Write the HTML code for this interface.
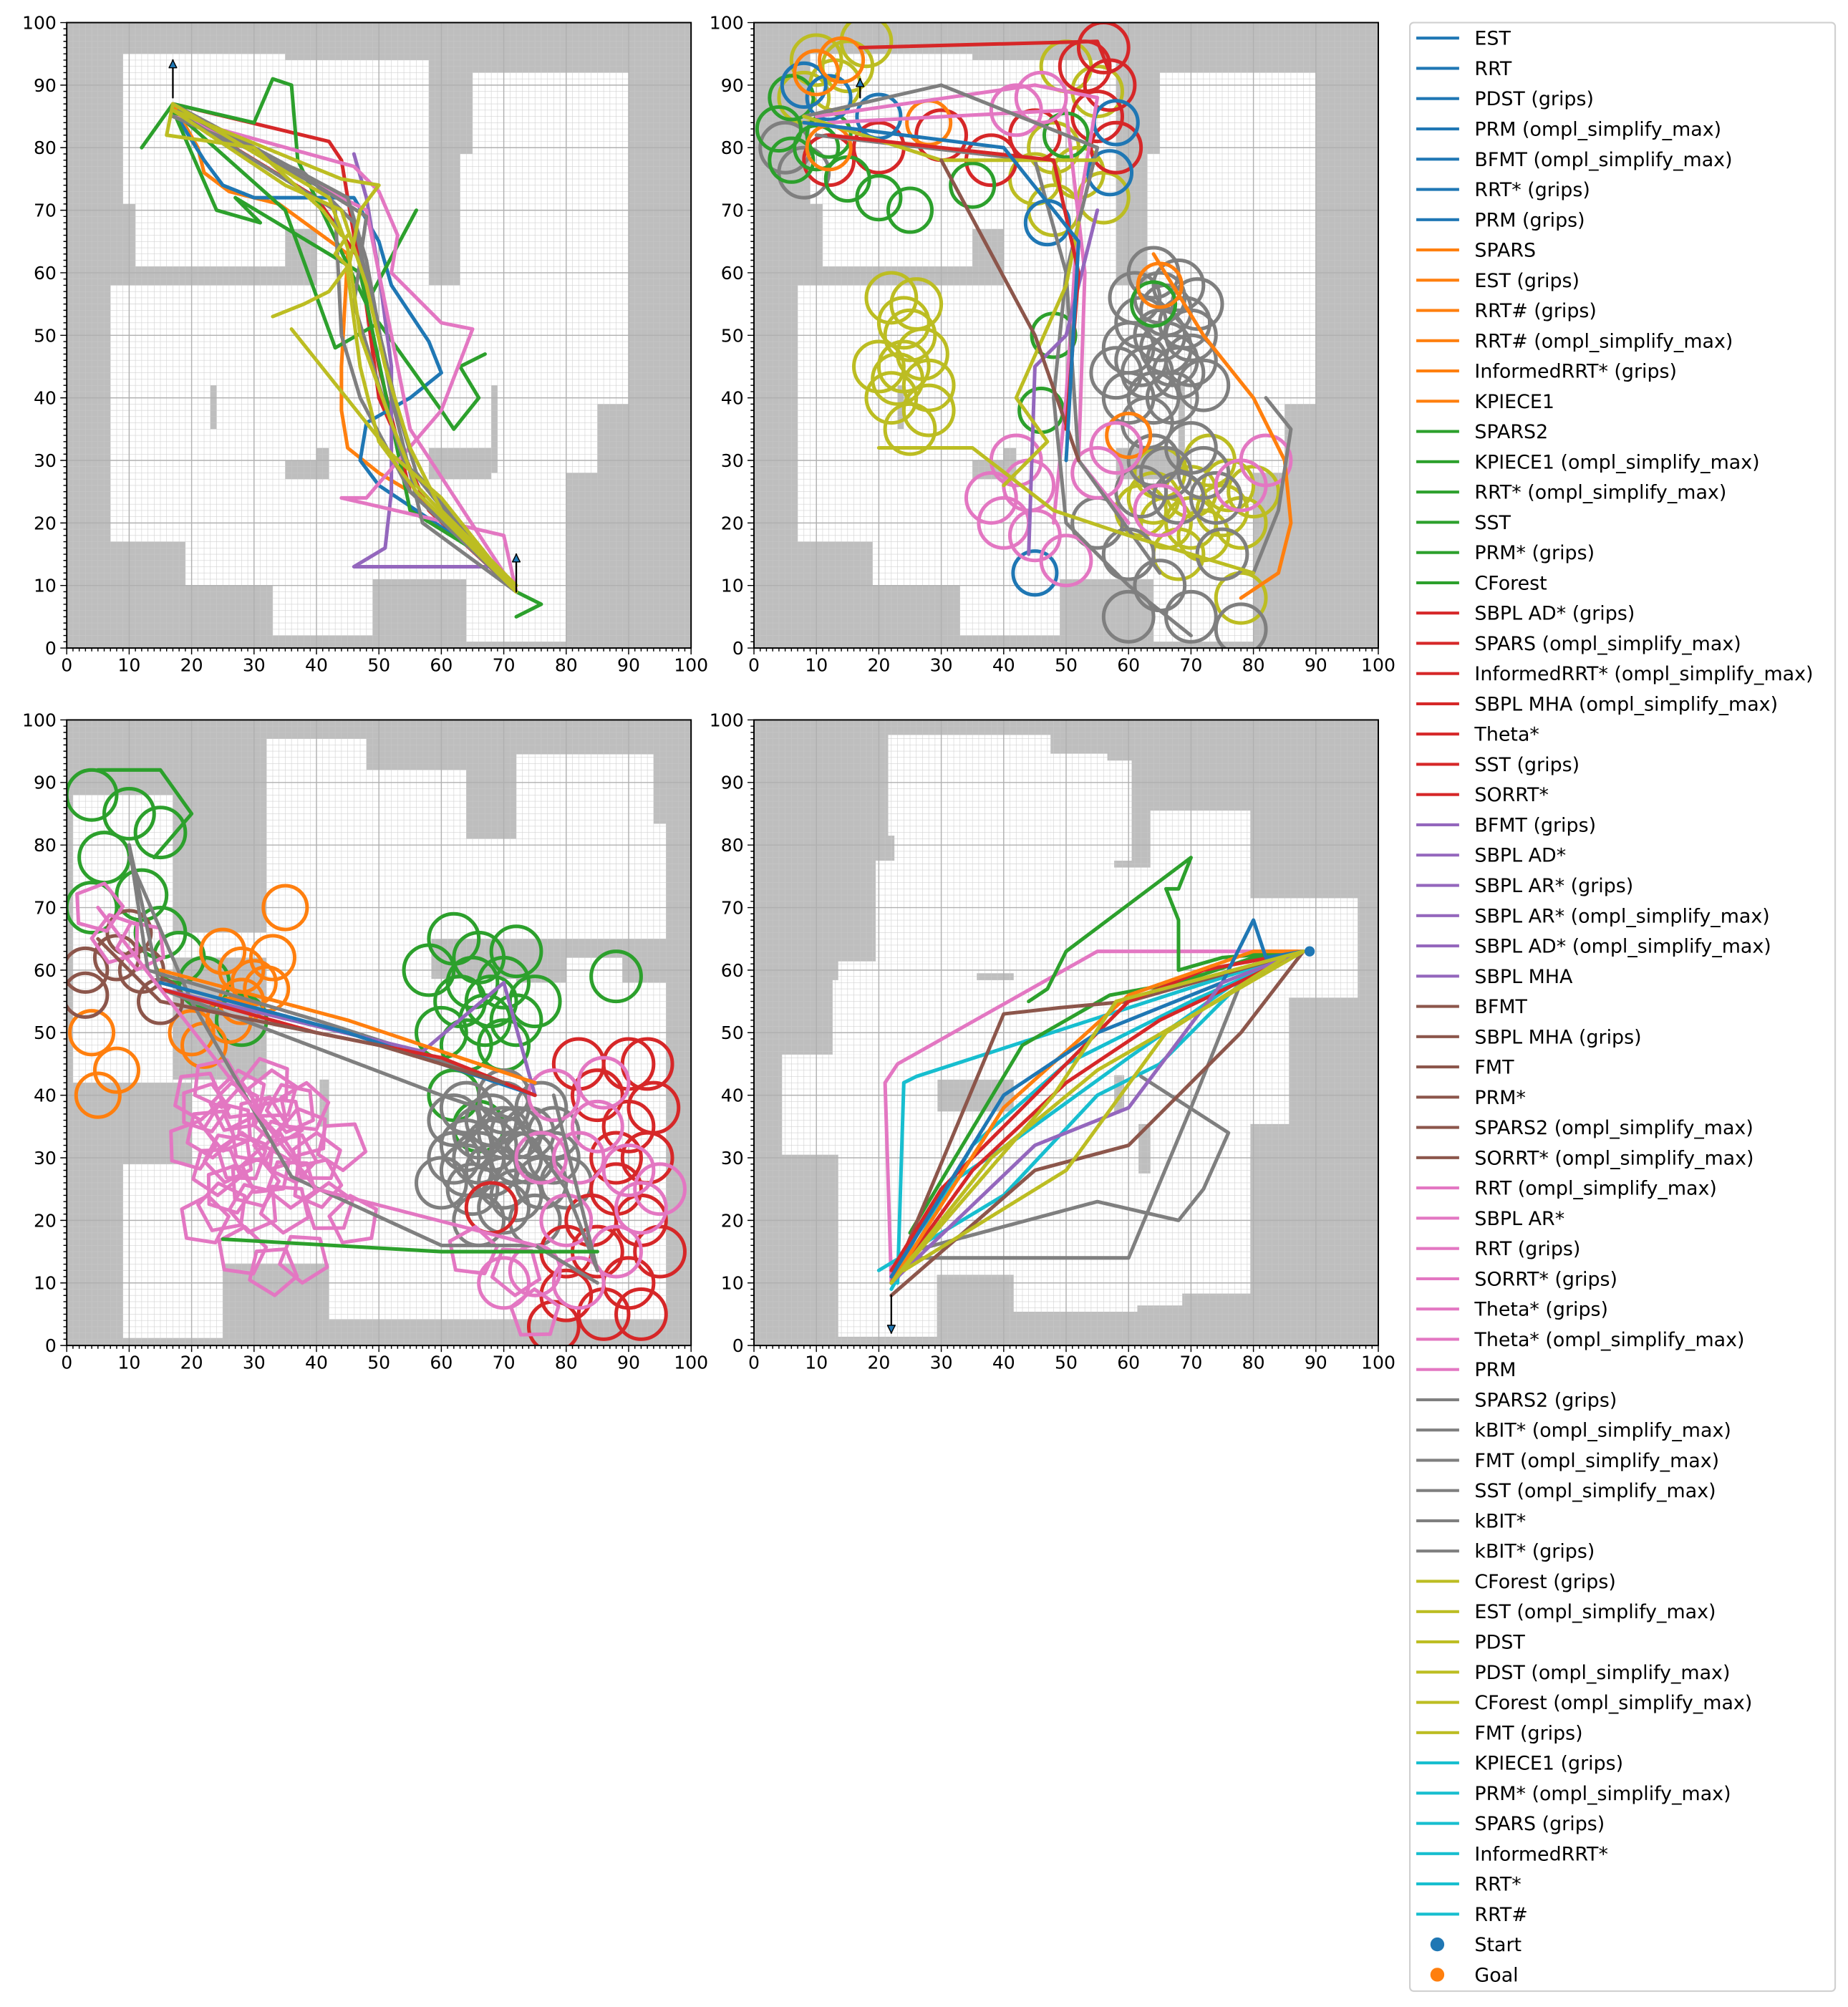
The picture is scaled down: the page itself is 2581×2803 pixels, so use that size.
<!DOCTYPE html>
<html><head><meta charset="utf-8"><title>Planner trajectories</title>
<style>html,body{margin:0;padding:0;background:#fff;}svg{display:block;}</style></head>
<body>
<svg id="fig" xmlns="http://www.w3.org/2000/svg" width="2581" height="2803" viewBox="0 0 1440 1564" preserveAspectRatio="none" font-family="DejaVu Sans, Liberation Sans, sans-serif"></svg>
<script>
// ---------- data ----------
const C = {blue:'#1f77b4',orange:'#ff7f0e',green:'#2ca02c',red:'#d62728',purple:'#9467bd',brown:'#8c564b',pink:'#e377c2',gray:'#7f7f7f',olive:'#bcbd22',cyan:'#17becf'};
const xTicks = [0,10,20,30,40,50,60,70,80,90,100];
const yTicks = [0,10,20,30,40,50,60,70,80,90,100];

const free1 = [[9,71,25,95],[11,61,35,95],[25,67,58,94],[40,58,58,67],[65,79,90,92],[63,39,90,79],[63,28,85,39],[7,17,63,58],[19,10,33,17],[33,2,49,17],[49,11,64,27],[64,1,80,28]];
const obst1 = [[35,27,42,30],[40,30,42,32],[23,35,24,42],[58,27,68,32],[68,28,69,42]];
const free3 = [[1,42.5,17,88],[17,62,32,66],[32,42.5,48,97],[48,42.5,64,92],[64,42.5,72,81],[72,65,94,94.5],[94,65,96,83.4],[80,58,89,62],[72,4.2,96,58],[42,4.2,72,42.5],[20,13.1,42,42.5],[9,1.2,25,29],[1,42,20,42.5]];
const obst3 = [[58.4,58.6,72,65],[40.5,35,42,42.5]];
const free4 = [[21.5,81.5,47.5,97.6],[22.5,75.5,47.5,81.5],[47.5,77.5,56.6,94.6],[56.6,77.5,60.5,93.5],[19.5,61.4,79.5,77.5],[63.5,71.5,79.5,85.5],[79.5,55.6,96.7,71.5],[13.5,58.4,79.5,61.4],[12.6,46.5,79.5,58.4],[4.5,30.5,79.5,46.5],[79.5,35.4,85.7,55.6],[13.5,1.4,29.3,30.5],[29.3,11.3,41.6,30.5],[41.6,5.4,61.4,30.5],[61.4,6.4,68.6,30.5],[68.6,8.3,79.5,35.4]];
const obst4 = [[29.4,37.4,41.6,42.5],[35.7,58.4,41.6,59.5],[57.7,37.4,59.3,43.2],[61.6,27.5,63.5,35.4],[57.7,76.4,63.5,77.5]];

const paths1 = [
 ['red',[[17,87],[42,81],[44,78],[46,66],[50,45],[55,25],[70,12],[72,9]]],
 ['red',[[17,86],[40,72],[47,62],[50,40],[58,22],[72,9]]],
 ['orange',[[17,87],[21,80],[22,76],[26,73],[34,71],[45,63],[44,45],[44,38],[45,32],[50,28],[55,25],[67,14],[72,9]]],
 ['blue',[[17,86],[22,78],[25,74],[30,72],[46,72],[50,65],[52,58],[58,49],[60,44],[55,40],[48,36],[47,30],[50,26],[68,14],[72,9]]],
 ['green',[[12,80],[17,87],[30,84],[33,91],[36,90],[37,78],[48,55],[56,70]]],
 ['green',[[17,86],[35,70],[43,48],[50,52],[55,45],[60,38],[62,35],[66,40],[63,45],[67,47]]],
 ['green',[[17,86],[24,70],[31,68],[27,72],[47,60],[55,22],[68,14],[72,9],[76,7],[72,5]]],
 ['purple',[[46,79],[48,72],[50,60],[52,45],[52,25],[51,16],[46,13],[68,13],[72,9]]],
 ['pink',[[17,85],[46,77],[50,73],[53,66],[52,60],[60,52],[65,51],[60,38],[48,24],[44,24],[70,18],[72,9]]],
 ['pink',[[17,86],[48,70],[52,50],[55,35],[72,9]]],
 ['gray',[[17,87],[45,72],[48,62],[52,40],[57,20],[72,9]]],
 ['gray',[[17,86],[43,70],[44,50],[47,40],[55,25],[72,9]]],
 ['gray',[[18,86],[40,74],[48,69],[46,55],[50,42],[54,30],[62,20],[72,9]]],
 ['gray',[[17,85],[38,76],[46,68],[49,55],[53,38],[56,28],[66,16],[72,9]]],
 ['olive',[[17,87],[42,72],[45,64],[47,50],[52,36],[56,26],[72,9]]],
 ['olive',[[33,53],[38,55],[42,57],[45,61],[43,63],[45,66]]],
 ['olive',[[36,51],[52,31],[60,24],[72,9]]],
 ['olive',[[17,86],[44,75],[50,74],[47,70],[45,60],[47,45],[50,33],[56,25],[65,16],[72,9]]],
 ['olive',[[17,87],[16,82],[30,80],[41,70],[44,66]]],
 ['olive',[[17,86],[35,74],[44,70],[48,58],[51,45],[55,32],[60,22],[72,10]]]
];
const circles2 = [
 ['olive',4,[[10,94],[15,93],[18,97],[13,90],[8,88],[50,93],[55,89],[48,80],[52,76],[45,75],[48,70],[56,72],[26,55],[25,50],[24,45],[28,42],[22,40],[28,38],[25,35],[20,45],[22,56],[24,52],[27,47],[23,43],[65,28],[70,25],[75,22],[72,18],[66,20],[78,20],[68,15],[73,30],[62,22],[80,25],[78,8],[70,20],[76,26],[64,24]]],
 ['gray',4,[[60,40],[63,44],[66,48],[69,52],[62,52],[65,56],[70,46],[67,40],[63,36],[72,42],[60,48],[68,58],[64,60],[71,55],[58,44],[62,46],[65,50],[68,44],[66,54],[64,40],[70,50],[61,56],[67,46],[66,28],[70,32],[74,24],[62,25],[60,15],[55,20],[75,15],[65,10],[70,5],[60,5],[78,3],[5,80],[8,76],[68,24],[72,28],[64,30]]],
 ['red',4,[[53,93],[57,90],[55,85],[58,80],[56,96],[45,82],[38,78],[20,80],[30,82],[12,78]]],
 ['green',3.5,[[6,88],[10,80],[15,75],[20,72],[25,70],[12,82],[6,78],[35,74],[50,82],[48,50],[46,38],[4,83],[64,55]]],
 ['blue',3.5,[[8,90],[20,85],[57,76],[58,84],[47,68],[45,12],[12,88]]],
 ['orange',3.5,[[10,92],[12,80],[28,84],[65,58],[60,34],[14,94]]],
 ['pink',4,[[42,30],[40,20],[45,18],[55,28],[50,14],[65,22],[58,32],[82,30],[78,26],[42,86],[46,88],[38,24],[44,26]]]
];
const paths2 = [
 ['red',[[17,96],[55,97],[57,92]]],
 ['pink',[[10,85],[45,90],[55,88],[52,70],[50,40],[48,20]]],
 ['pink',[[12,84],[50,86],[53,60],[52,30],[60,20]]],
 ['gray',[[8,85],[30,90],[55,80],[50,60],[48,40],[50,20],[60,10],[70,2]]],
 ['gray',[[10,82],[45,78],[50,60],[52,30],[65,12]]],
 ['purple',[[44,15],[45,45],[50,50],[55,70]]],
 ['orange',[[64,63],[72,50],[80,40],[85,30],[86,20],[84,12],[78,8]]],
 ['gray',[[82,40],[86,35],[84,22],[80,12]]],
 ['olive',[[8,85],[30,78],[55,78]]],
 ['olive',[[20,32],[35,32],[48,22],[60,18],[80,12]]],
 ['olive',[[40,26],[47,33],[42,40],[50,58],[52,68]]],
 ['brown',[[30,78],[45,50],[52,30]]],
 ['red',[[12,82],[48,78],[52,60],[50,35]]],
 ['blue',[[8,84],[40,80],[52,65],[50,30]]]
];
const circles3 = [
 ['green',4,[[4,88],[10,85],[15,82],[6,78],[12,72],[4,70],[15,66],[18,62],[58,60],[62,65],[66,62],[70,58],[63,55],[67,52],[72,63],[60,50],[70,48],[75,55],[88,59],[62,40],[66,35],[22,58],[28,52],[65,58],[68,55],[72,52],[64,48]]],
 ['orange',3.5,[[25,63],[28,60],[33,62],[32,57],[5,40],[22,48],[35,70],[28,55],[20,50],[4,50],[8,44],[30,58],[26,52]]],
 ['brown',3.5,[[3,60],[8,62],[12,60],[15,55],[3,56],[10,66]]],
 ['gray',4,[[62,30],[66,34],[70,38],[74,34],[78,30],[65,25],[70,22],[75,20],[68,28],[72,30],[76,38],[64,38],[60,26],[80,26],[70,40],[66,20],[64,32],[68,36],[72,34],[76,26],[70,26],[66,30],[74,30],[68,32],[62,36],[72,24],[78,34],[64,28],[70,34]]],
 ['red',4,[[85,40],[90,35],[93,30],[88,25],[92,20],[85,15],[90,10],[95,15],[86,5],[80,8],[78,3],[68,22],[93,45],[82,45],[90,45],[94,38],[88,30],[84,20],[92,5],[80,15]]],
 ['pink',4,[[85,35],[90,28],[80,20],[88,15],[82,10],[75,12],[70,10],[92,22],[78,40],[82,30],[95,25],[86,42],[76,30]]]
];
const polys3 = [
 ['pink',4,5,[[22,38],[26,35],[30,33],[34,36],[28,30],[24,28],[32,28],[36,30],[38,34],[26,25],[30,22],[22,20],[35,22],[40,30],[44,32],[28,40],[24,42],[32,42],[20,32],[36,38],[28,15],[38,14],[42,22],[33,12],[46,20],[40,26],[8,65],[5,70],[12,64],[65,15],[72,12],[75,5],[23,34],[27,38],[31,36],[34,32],[30,26],[26,30],[38,38],[36,26],[33,40],[21,40],[25,22]]]
];
const paths3 = [
 ['gray',[[10,80],[15,57],[60,40],[72,36],[80,25],[85,12],[78,40]]],
 ['gray',[[10,78],[20,55],[36,27],[60,16],[75,16],[85,10]]],
 ['gray',[[10,80],[13,60],[40,52],[65,44]]],
 ['purple',[[15,57],[57,47],[70,58],[75,40]]],
 ['blue',[[15,58],[45,50],[75,40]]],
 ['red',[[15,57],[40,50],[60,46],[75,40]]],
 ['orange',[[15,60],[45,52],[75,42]]],
 ['brown',[[5,65],[15,55],[50,48],[70,42]]],
 ['green',[[25,17],[60,15],[85,15]]],
 ['pink',[[5,70],[15,57],[40,25],[75,16]]],
 ['green',[[5,92],[15,92],[20,85],[14,78]]]
];
const paths4 = [
 ['pink',[[22,10],[21,42],[23,45],[55,63],[87,63]]],
 ['cyan',[[23,10],[24,42],[26,43],[88,63]]],
 ['cyan',[[20,12],[30,18],[40,24],[55,40],[65,45],[78,58],[88,63]]],
 ['cyan',[[22,9],[35,32],[50,45],[70,55],[88,63]]],
 ['cyan',[[22,10],[30,25],[42,33],[60,46],[80,60],[88,63]]],
 ['green',[[44,55],[47,57],[50,63],[70,78],[68,73],[66,73],[68,68],[68,60],[75,62],[87,63]]],
 ['green',[[25,18],[43,48],[57,56],[68,58],[80,62],[88,63]]],
 ['gray',[[22,11],[25,14],[60,14],[70,38],[78,58]]],
 ['gray',[[25,15],[55,23],[68,20],[72,25],[76,34],[62,43]]],
 ['brown',[[22,10],[40,53],[49,54],[60,55],[88,63]]],
 ['brown',[[22,8],[45,28],[60,32],[78,50],[88,63]]],
 ['red',[[22,12],[30,25],[45,40],[60,55],[72,60],[88,63]]],
 ['red',[[22,10],[35,28],[50,42],[65,52],[88,63]]],
 ['orange',[[22,10],[40,38],[50,47],[60,56],[80,63],[88,63]]],
 ['blue',[[22,11],[40,40],[55,50],[75,58],[80,68],[82,62],[88,63]]],
 ['purple',[[22,10],[45,32],[60,38],[75,58],[88,63]]],
 ['olive',[[22,10],[48,40],[58,55],[88,63]]],
 ['olive',[[24,12],[50,28],[66,50],[85,62]]],
 ['olive',[[22,10],[38,30],[55,44],[88,63]]]
];
const legendLabels = [
 ['EST','blue'],['RRT','blue'],['PDST (grips)','blue'],['PRM (ompl_simplify_max)','blue'],['BFMT (ompl_simplify_max)','blue'],['RRT* (grips)','blue'],['PRM (grips)','blue'],
 ['SPARS','orange'],['EST (grips)','orange'],['RRT# (grips)','orange'],['RRT# (ompl_simplify_max)','orange'],['InformedRRT* (grips)','orange'],['KPIECE1','orange'],
 ['SPARS2','green'],['KPIECE1 (ompl_simplify_max)','green'],['RRT* (ompl_simplify_max)','green'],['SST','green'],['PRM* (grips)','green'],['CForest','green'],
 ['SBPL AD* (grips)','red'],['SPARS (ompl_simplify_max)','red'],['InformedRRT* (ompl_simplify_max)','red'],['SBPL MHA (ompl_simplify_max)','red'],['Theta*','red'],['SST (grips)','red'],['SORRT*','red'],
 ['BFMT (grips)','purple'],['SBPL AD*','purple'],['SBPL AR* (grips)','purple'],['SBPL AR* (ompl_simplify_max)','purple'],['SBPL AD* (ompl_simplify_max)','purple'],['SBPL MHA','purple'],
 ['BFMT','brown'],['SBPL MHA (grips)','brown'],['FMT','brown'],['PRM*','brown'],['SPARS2 (ompl_simplify_max)','brown'],['SORRT* (ompl_simplify_max)','brown'],
 ['RRT (ompl_simplify_max)','pink'],['SBPL AR*','pink'],['RRT (grips)','pink'],['SORRT* (grips)','pink'],['Theta* (grips)','pink'],['Theta* (ompl_simplify_max)','pink'],['PRM','pink'],
 ['SPARS2 (grips)','gray'],['kBIT* (ompl_simplify_max)','gray'],['FMT (ompl_simplify_max)','gray'],['SST (ompl_simplify_max)','gray'],['kBIT*','gray'],['kBIT* (grips)','gray'],
 ['CForest (grips)','olive'],['EST (ompl_simplify_max)','olive'],['PDST','olive'],['PDST (ompl_simplify_max)','olive'],['CForest (ompl_simplify_max)','olive'],['FMT (grips)','olive'],
 ['KPIECE1 (grips)','cyan'],['PRM* (ompl_simplify_max)','cyan'],['SPARS (grips)','cyan'],['InformedRRT*','cyan'],['RRT*','cyan'],['RRT#','cyan']
];

// ---------- drawing ----------
const NS='http://www.w3.org/2000/svg';
const svg=document.getElementById('fig');
function mk(tag,attrs,parent){const e=document.createElementNS(NS,tag);for(const k in attrs)e.setAttribute(k,attrs[k]);(parent||svg).appendChild(e);return e;}

const AXES=[{x0:52,x1:538.5,y0:17.6,y1:505},{x0:587.5,x1:1074,y0:17.6,y1:505},{x0:52,x1:538.5,y0:561,y1:1048.5},{x0:587.5,x1:1074,y0:561,y1:1048.5}];

function drawAxes(i,free,obst,paths,circles,polys,extra){
 const a=AXES[i];
 const sx=v=>a.x0+(a.x1-a.x0)*v/100, sy=v=>a.y1-(a.y1-a.y0)*v/100;
 const g=mk('g',{});
 
 
 const clipId='clip'+i;
 const cp=mk('clipPath',{id:clipId},g);mk('rect',{x:a.x0,y:a.y0,width:a.x1-a.x0,height:a.y1-a.y0},cp);
 const map=mk('g',{'clip-path':'url(#'+clipId+')'},g);
 
 
 mk('rect',{x:a.x0,y:a.y0,width:a.x1-a.x0,height:a.y1-a.y0,fill:'#bebebe'},map);
 free.forEach(r=>{mk('rect',{x:sx(r[0]),y:sy(r[3]),width:sx(r[2])-sx(r[0]),height:sy(r[1])-sy(r[3]),fill:'#fff'},map);});
 obst.forEach(r=>{mk('rect',{x:sx(r[0]),y:sy(r[3]),width:sx(r[2])-sx(r[0]),height:sy(r[1])-sy(r[3]),fill:'#bebebe'},map);});
 let d='';
 for(let v=1;v<100;v++){if(v%10===0)continue;d+='M'+sx(v)+' '+a.y0+'V'+a.y1+'M'+a.x0+' '+sy(v)+'H'+a.x1;}
 mk('path',{d:d,stroke:'#c8c8c8','stroke-width':0.35,fill:'none','stroke-opacity':0.8},map);
 let D='';
 for(let v=10;v<100;v+=10){D+='M'+sx(v)+' '+a.y0+'V'+a.y1+'M'+a.x0+' '+sy(v)+'H'+a.x1;}
 mk('path',{d:D,stroke:'#b0b0b0','stroke-width':0.8,fill:'none'},map);
 const tr=mk('g',{'clip-path':'url(#'+clipId+')',fill:'none','stroke-width':2.8,'stroke-linejoin':'round','stroke-linecap':'round'},g);
 
 
 (circles||[]).forEach(c=>{c[2].forEach(p=>{const e=mk('ellipse',{cx:sx(p[0]),cy:sy(p[1]),rx:(a.x1-a.x0)*c[1]/100,ry:(a.y1-a.y0)*c[1]/100,stroke:C[c[0]]},tr);
   
   });});
 (polys||[]).forEach(c=>{c[3].forEach((p,k)=>{let pts=[];for(let j=0;j<c[2];j++){const t=k*0.7+j*2*Math.PI/c[2];pts.push((sx(p[0]+c[1]*Math.cos(t)))+','+(sy(p[1]+c[1]*Math.sin(t))));}
   const e=mk('polygon',{points:pts.join(' '),stroke:C[c[0]]},tr);
   
   });});
 paths.forEach(p=>{const e=mk('polyline',{points:p[1].map(q=>sx(q[0])+','+sy(q[1])).join(' '),stroke:C[p[0]]},tr);
   
   });
 if(extra)extra(tr,sx,sy);
 mk('rect',{x:a.x0,y:a.y0,width:a.x1-a.x0,height:a.y1-a.y0,fill:'none',stroke:'#000','stroke-width':1.1},g);
 let t='';
 for(let v=0;v<=100;v++){const L=(v%10===0)?5:2.6;t+='M'+sx(v)+' '+a.y1+'v'+L+'M'+a.x0+' '+sy(v)+'h'+(-L);}
 mk('path',{d:t,stroke:'#000','stroke-width':0.8,fill:'none'},g);
 xTicks.forEach(v=>{const e=mk('text',{x:sx(v),y:a.y1+18,'text-anchor':'middle','font-size':14,fill:'#000'},g);e.textContent=v;
   
   });
 yTicks.forEach(v=>{const e=mk('text',{x:a.x0-8,y:sy(v)+5,'text-anchor':'end','font-size':14,fill:'#000'},g);e.textContent=v;
   
   });
}
function arrow(tr,x1,y1,x2,y2){mk('line',{x1:x1,y1:y1,x2:x2,y2:y2,stroke:'#000','stroke-width':1.3},tr);
 const dx=x2-x1,dy=y2-y1,l=Math.hypot(dx,dy),ux=dx/l,uy=dy/l;
 mk('polygon',{points:(x2)+','+(y2)+' '+(x2-ux*6-uy*3)+','+(y2-uy*6+ux*3)+' '+(x2-ux*6+uy*3)+','+(y2-uy*6-ux*3),fill:'#1f77b4',stroke:'#000','stroke-width':0.8},tr);}

drawAxes(0,free1,obst1,paths1,null,null,(tr,sx,sy)=>{arrow(tr,sx(17),sy(88),sx(17),sy(94));arrow(tr,sx(72),sy(9),sx(72),sy(15));});
drawAxes(1,free1,obst1,paths2,circles2,null,(tr,sx,sy)=>{arrow(tr,sx(17),sy(88),sx(17),sy(91));});
drawAxes(2,free3,obst3,paths3,circles3,polys3,null);
drawAxes(3,free4,obst4,paths4,null,null,(tr,sx,sy)=>{mk('circle',{cx:sx(89),cy:sy(63),r:4,fill:'#1f77b4',stroke:'none'},tr);arrow(tr,sx(22),sy(8),sx(22),sy(2));});

const lg=mk('g',{});


mk('rect',{x:1098.6,y:17.6,width:331.4,height:1534,rx:3,fill:'#fff',stroke:'#d0d0d0','stroke-width':1.2},lg);
const step=23.58;
legendLabels.forEach((l,i)=>{const y=29.7+i*step;
 const ln=mk('line',{x1:1103.6,x2:1137,y1:y,y2:y,stroke:C[l[1]],'stroke-width':2.3},lg);
 
 
 const tx=mk('text',{x:1149,y:y+5.3,'font-size':15,fill:'#000'},lg);tx.textContent=l[0];
 
 });
[['Start','#1f77b4'],['Goal','#ff7f0e']].forEach((l,k)=>{const y=29.7+(63+k)*step;
 const c=mk('circle',{cx:1120,cy:y,r:5.4,fill:l[1]},lg);
 
 
 const tx=mk('text',{x:1149,y:y+5.3,'font-size':15,fill:'#000'},lg);tx.textContent=l[0];
 
 });
</script>
</body></html>
